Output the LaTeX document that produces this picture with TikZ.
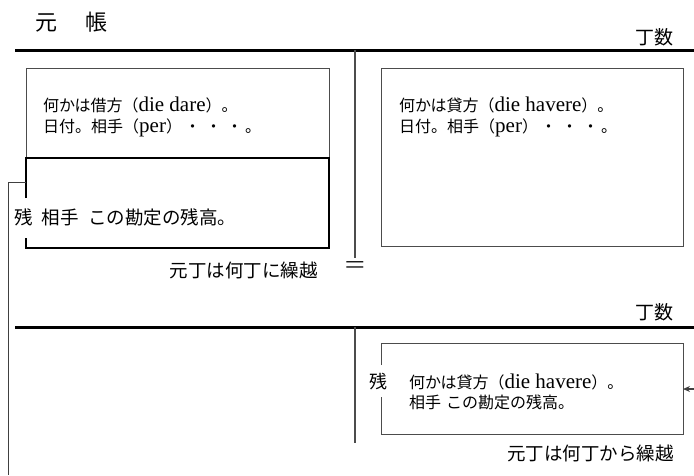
\documentclass[tikz,border=0pt]{standalone}
\usepackage{fontspec}
\setmainfont{Liberation Serif}
\newfontfamily\jp{Noto Sans CJK JP}
\usetikzlibrary{arrows.meta}
\newcommand{\lat}[1]{{\rmfamily\fontsize{21}{20}\selectfont #1}}
\newcommand{\dt}{\makebox[21pt]{・}}
\tikzset{
  rule/.style={line width=3pt,black},
  divider/.style={line width=1.3pt,black!70},
  thinbox/.style={line width=1pt,black!70},
  thickbox/.style={line width=2.5pt,black},
  link/.style={line width=1pt,black!75},
  boxtext/.style={font=\jp\fontsize{16}{20.5}\selectfont,align=left,inner sep=0pt},
  lbl/.style={font=\jp\fontsize{18.5}{20}\selectfont,inner sep=0pt},
}
\begin{document}
\begin{tikzpicture}[x=1pt,y=-1pt]
\useasboundingbox (0,0) rectangle (694,475);
% title and rules
\node[inner sep=0pt,anchor=west,font=\jp\fontsize{22}{24}\selectfont] (title) at (35,22) {元\hspace{28pt}帳};
\coordinate (r1a) at (15,50); \coordinate (r1b) at (694,50);
\draw[rule] (r1a) -- (r1b);
\node[lbl,anchor=east,font=\jp\fontsize{19}{20}\selectfont] (cho1) at (674,37) {丁数};
\coordinate (d1a) at (355,50); \coordinate (d1b) at (355,258);
\draw[divider] (d1a) -- (d1b);
% upper left boxes
\coordinate (ul1) at (26,68); \coordinate (ul2) at (329,158);
\draw[thinbox] (26,158) -- (ul1) -- (329,68) -- (ul2);
\node[boxtext,anchor=west] (dtext) at (43,117) {何かは借方（\lat{die dare}）。\\日付。相手（\lat{per}）\dt\dt\dt 。};
\draw[thickbox] (26,198) -- (26,158) -- (329,158) -- (329,248) -- (26,248) -- (26,238);
\node[inner sep=0pt,anchor=west,font=\jp\fontsize{18.5}{18}\selectfont] (zan1) at (14,217) {残\hspace{0.5em}相手\hspace{0.5em}この勘定の残高。};
\node[lbl,anchor=east] (kuri1) at (318,270) {元丁は何丁に繰越};
\node[inner sep=0pt,xscale=1.4,font=\rmfamily\fontsize{26}{26}\selectfont] (eq) at (355,268) {=};
% upper right box
\draw[thinbox] (381,68) rectangle (683,246);
\node[boxtext,anchor=west] (htext) at (399,117) {何かは貸方（\lat{die havere}）。\\日付。相手（\lat{per}）\dt\dt\dt 。};
% second ledger
\coordinate (r2a) at (15,327); \coordinate (r2b) at (694,327);
\draw[rule] (r2a) -- (r2b);
\node[lbl,anchor=east,font=\jp\fontsize{19}{20}\selectfont] (cho2) at (674,312) {丁数};
\coordinate (d2a) at (355,327); \coordinate (d2b) at (355,443);
\draw[divider] (d2a) -- (d2b);
% lower right box
\coordinate (lrr) at (683,389);
\draw[thinbox] (381,365) -- (381,343) -- (683,343) -- (683,434) -- (381,434) -- (381,397);
\node[inner sep=0pt,font=\jp\fontsize{18}{18}\selectfont] (zan2) at (378,382) {残};
\node[boxtext,anchor=west] (ltext) at (409,392) {何かは貸方（\lat{die havere}）。\\相手\hspace{0.3em}この勘定の残高。};
\node[lbl,anchor=east] (kuri2) at (674,453) {元丁は何丁から繰越};
% connectors
\coordinate (c0) at (26,182);
\coordinate (c1) at (8,182);
\coordinate (c2) at (8,475);
\draw[link] (c0) -- (c1) -- (c2);
\coordinate (a0) at (694,389);
\draw[link,line width=1.2pt,-{Stealth[length=7pt,width=6pt]}] (a0) -- (lrr);
\end{tikzpicture}
\end{document}
